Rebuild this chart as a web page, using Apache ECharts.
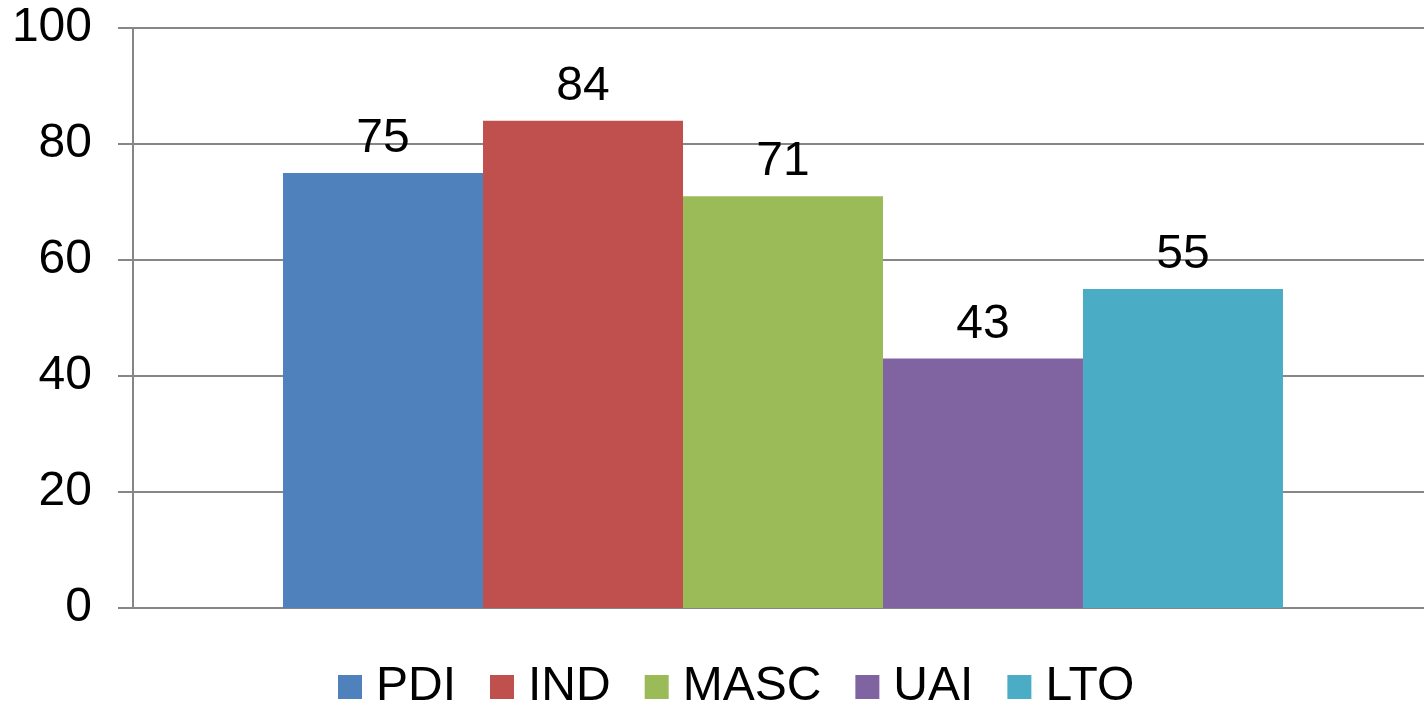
<!DOCTYPE html>
<html><head><meta charset="utf-8">
<script src="https://cdn.jsdelivr.net/npm/echarts@6/dist/echarts.min.js"></script>
<style>html,body{margin:0;padding:0;background:#fff;overflow:hidden}#c{width:1433px;height:705px}</style>
</head><body><div id="c"></div>
<script>
const categories = [''];
const seriesNames = ['PDI', 'IND', 'MASC', 'UAI', 'LTO'];
const seriesValues = [75, 84, 71, 43, 55];
const colors = ['#4F81BD', '#C0504D', '#9BBB59', '#8064A2', '#4BACC6'];
const yTicks = [0, 20, 40, 60, 80, 100];

const font = 'Liberation Sans, Arial, sans-serif';
const chart = echarts.init(document.getElementById('c'), null, {renderer: 'canvas'});
chart.setOption({
  animation: false,
  color: colors,
  grid: {left: 133, right: 0, top: 28, bottom: 97, containLabel: false},
  legend: {
    top: 658, left: 333,
    itemWidth: 24, itemHeight: 24, itemGap: 34,
    icon: 'rect',
    textStyle: {fontSize: 48, fontFamily: font, color: '#000', padding: [0, 0, 0, 9]},
    data: seriesNames
  },
  xAxis: {
    type: 'category', data: categories,
    axisLine: {show: true, lineStyle: {color: '#868686', width: 2}},
    axisTick: {show: false}, axisLabel: {show: false}
  },
  yAxis: {
    type: 'value', min: yTicks[0], max: yTicks[yTicks.length - 1], interval: 20,
    axisLine: {show: true, lineStyle: {color: '#868686', width: 2}},
    axisTick: {show: true, length: 15, lineStyle: {color: '#868686', width: 2}},
    axisLabel: {fontSize: 48, fontFamily: font, color: '#000', margin: 41},
    splitLine: {show: true, lineStyle: {color: '#868686', width: 2}}
  },
  series: seriesNames.map((n, i) => ({
    name: n, type: 'bar',
    data: [seriesValues[i]],
    barGap: '0%', barCategoryGap: '23.08%',
    label: {show: true, position: 'top', distance: 10, fontSize: 48, fontFamily: font, color: '#000'}
  }))
});
</script></body></html>
